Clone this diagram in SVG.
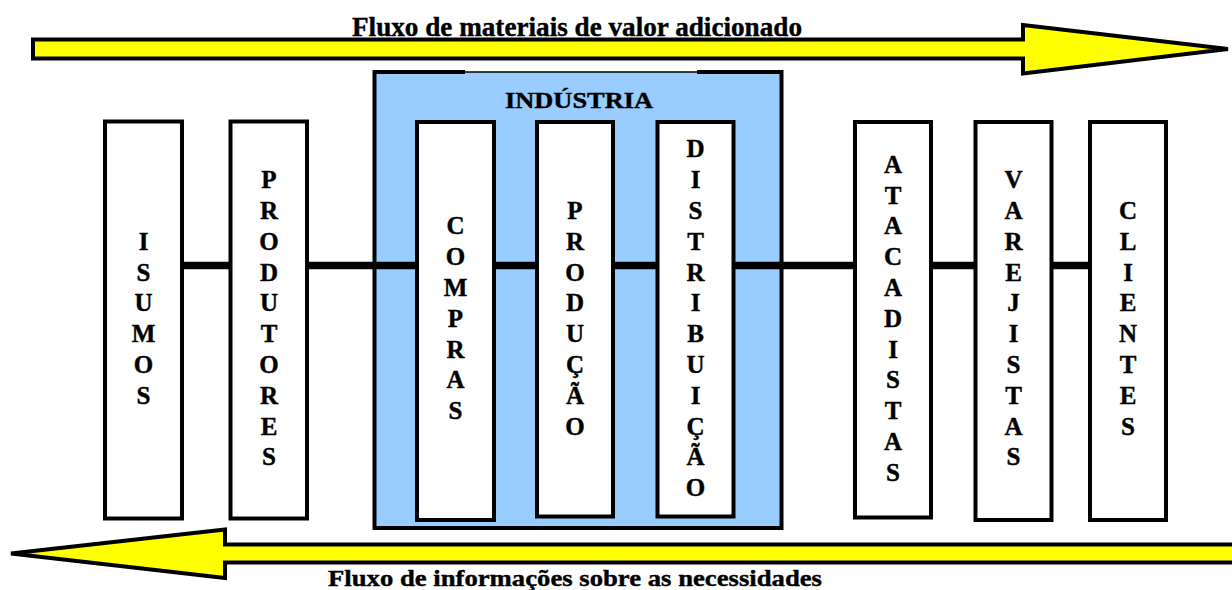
<svg xmlns="http://www.w3.org/2000/svg" width="1232" height="590" viewBox="0 0 1232 590">
<style>
.lbl{font-family:"Liberation Serif","Times New Roman",serif;font-weight:bold;fill:#000;stroke:#000;stroke-width:0.4;}
.box{fill:#fff;stroke:#000;stroke-width:4;}
.arrow{fill:#ffff00;stroke:#000;stroke-width:4;stroke-linejoin:miter;}
.v{font-family:"Liberation Serif","Times New Roman",serif;font-weight:bold;font-size:25px;text-anchor:middle;fill:#000;stroke:#000;stroke-width:0.4;}
</style>
<rect width="1232" height="590" fill="#fff"/>
<g id="flow-top">
<polygon class="arrow" points="33,39.5 1023,39.5 1023,25 1228,49 1023,73.5 1023,58.5 33,58.5"/>
<text class="lbl" x="577" y="36" font-size="27" text-anchor="middle" textLength="450" lengthAdjust="spacingAndGlyphs">Fluxo de materiais de valor adicionado</text>
</g>
<g id="flow-bottom">
<polygon class="arrow" points="1234,544.5 225,544.5 225,529.5 11,553.5 225,578 225,562.5 1234,562.5"/>
<text class="lbl" x="575" y="585.5" font-size="24" text-anchor="middle" textLength="494" lengthAdjust="spacingAndGlyphs">Fluxo de informações sobre as necessidades</text>
</g>
<g id="industria">
<rect x="374.5" y="72" width="407" height="456" fill="#99ccff"/>
<path d="M465,72 H374.5 V528 H781.5 V72 H697" fill="none" stroke="#000" stroke-width="4"/>
<line x1="465" y1="72" x2="697" y2="72" stroke="#000" stroke-width="1.5"/>
<text class="lbl" x="579" y="107.7" font-size="24" text-anchor="middle" textLength="148" lengthAdjust="spacingAndGlyphs">INDÚSTRIA</text>
</g>
<g id="connectors">
<line x1="182" y1="265.5" x2="1090" y2="265.5" stroke="#000" stroke-width="7.5"/>
</g>
<g id="isumos">
<rect class="box" x="105" y="121.5" width="77" height="397"/>
<text class="v" x="143.5" y="249.8"><tspan x="143.5">I</tspan><tspan x="143.5" dy="30.8">S</tspan><tspan x="143.5" dy="30.8">U</tspan><tspan x="143.5" dy="30.8">M</tspan><tspan x="143.5" dy="30.8">O</tspan><tspan x="143.5" dy="30.8">S</tspan></text>
</g>
<g id="produtores">
<rect class="box" x="230.5" y="121.5" width="76.5" height="397"/>
<text class="v" x="269" y="188.2"><tspan x="269">P</tspan><tspan x="269" dy="30.8">R</tspan><tspan x="269" dy="30.8">O</tspan><tspan x="269" dy="30.8">D</tspan><tspan x="269" dy="30.8">U</tspan><tspan x="269" dy="30.8">T</tspan><tspan x="269" dy="30.8">O</tspan><tspan x="269" dy="30.8">R</tspan><tspan x="269" dy="30.8">E</tspan><tspan x="269" dy="30.8">S</tspan></text>
</g>
<g id="compras">
<rect class="box" x="417" y="122" width="77" height="398"/>
<text class="v" x="455.5" y="234.4"><tspan x="455.5">C</tspan><tspan x="455.5" dy="30.8">O</tspan><tspan x="455.5" dy="30.8">M</tspan><tspan x="455.5" dy="30.8">P</tspan><tspan x="455.5" dy="30.8">R</tspan><tspan x="455.5" dy="30.8">A</tspan><tspan x="455.5" dy="30.8">S</tspan></text>
</g>
<g id="producao">
<rect class="box" x="537" y="122" width="76" height="394.5"/>
<text class="v" x="575" y="219"><tspan x="575">P</tspan><tspan x="575" dy="30.8">R</tspan><tspan x="575" dy="30.8">O</tspan><tspan x="575" dy="30.8">D</tspan><tspan x="575" dy="30.8">U</tspan><tspan x="575" dy="30.8">Ç</tspan><tspan x="575" dy="30.8">Ã</tspan><tspan x="575" dy="30.8">O</tspan></text>
</g>
<g id="distribuicao">
<rect class="box" x="657.5" y="122" width="76" height="394.5"/>
<text class="v" x="695.5" y="157.4"><tspan x="695.5">D</tspan><tspan x="695.5" dy="30.8">I</tspan><tspan x="695.5" dy="30.8">S</tspan><tspan x="695.5" dy="30.8">T</tspan><tspan x="695.5" dy="30.8">R</tspan><tspan x="695.5" dy="30.8">I</tspan><tspan x="695.5" dy="30.8">B</tspan><tspan x="695.5" dy="30.8">U</tspan><tspan x="695.5" dy="30.8">I</tspan><tspan x="695.5" dy="30.8">Ç</tspan><tspan x="695.5" dy="30.8">Ã</tspan><tspan x="695.5" dy="30.8">O</tspan></text>
</g>
<g id="atacadistas">
<rect class="box" x="855" y="122" width="76" height="395.5"/>
<text class="v" x="893" y="172.8"><tspan x="893">A</tspan><tspan x="893" dy="30.8">T</tspan><tspan x="893" dy="30.8">A</tspan><tspan x="893" dy="30.8">C</tspan><tspan x="893" dy="30.8">A</tspan><tspan x="893" dy="30.8">D</tspan><tspan x="893" dy="30.8">I</tspan><tspan x="893" dy="30.8">S</tspan><tspan x="893" dy="30.8">T</tspan><tspan x="893" dy="30.8">A</tspan><tspan x="893" dy="30.8">S</tspan></text>
</g>
<g id="varejistas">
<rect class="box" x="975.5" y="122" width="76" height="398"/>
<text class="v" x="1013.5" y="188.2"><tspan x="1013.5">V</tspan><tspan x="1013.5" dy="30.8">A</tspan><tspan x="1013.5" dy="30.8">R</tspan><tspan x="1013.5" dy="30.8">E</tspan><tspan x="1013.5" dy="30.8">J</tspan><tspan x="1013.5" dy="30.8">I</tspan><tspan x="1013.5" dy="30.8">S</tspan><tspan x="1013.5" dy="30.8">T</tspan><tspan x="1013.5" dy="30.8">A</tspan><tspan x="1013.5" dy="30.8">S</tspan></text>
</g>
<g id="clientes">
<rect class="box" x="1090" y="122" width="76" height="398"/>
<text class="v" x="1128" y="219"><tspan x="1128">C</tspan><tspan x="1128" dy="30.8">L</tspan><tspan x="1128" dy="30.8">I</tspan><tspan x="1128" dy="30.8">E</tspan><tspan x="1128" dy="30.8">N</tspan><tspan x="1128" dy="30.8">T</tspan><tspan x="1128" dy="30.8">E</tspan><tspan x="1128" dy="30.8">S</tspan></text>
</g>
</svg>
